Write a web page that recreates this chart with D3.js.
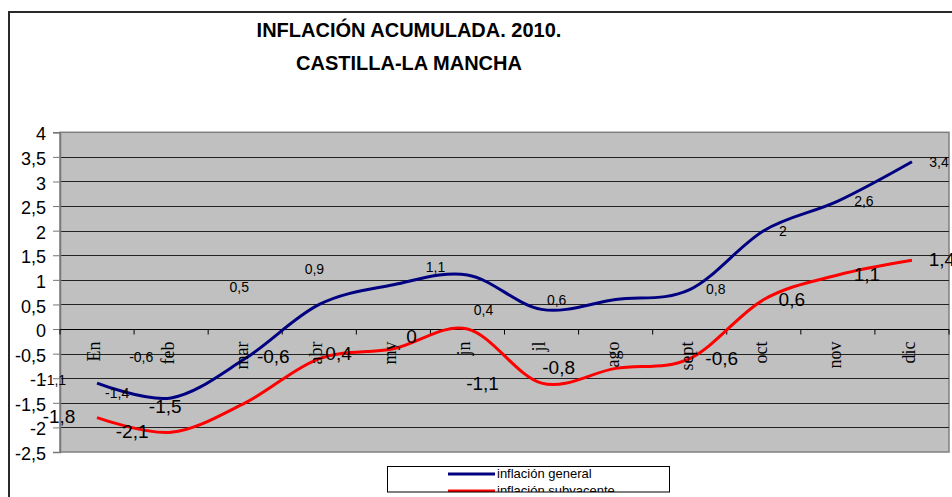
<!DOCTYPE html>
<html>
<head>
<meta charset="utf-8">
<script src="https://cdn.jsdelivr.net/npm/d3@7"></script>
<style>
  body { margin: 0; background: #fff; }
  svg { display: block; font-family: "Liberation Sans", Arial, sans-serif; }
</style>
</head>
<body>
<svg id="chart" width="952" height="497"></svg>
<script>
// months (category axis)
var months = ["En", "feb", "mar", "abr", "my", "jn", "jl", "ago", "sept", "oct", "nov", "dic"];
// inflación general
var general = [-1.1, -1.4, -0.6, 0.5, 0.9, 1.1, 0.4, 0.6, 0.8, 2.0, 2.6, 3.4];
// inflación subyacente
var subyacente = [-1.8, -2.1, -1.5, -0.6, -0.4, 0, -1.1, -0.8, -0.6, 0.6, 1.1, 1.4];
var yTicks = [-2.5, -2, -1.5, -1, -0.5, 0, 0.5, 1, 1.5, 2, 2.5, 3, 3.5, 4];
var seriesNames = ["inflación general", "inflación subyacente"];

// data label offsets (px) from each point, they were dragged around in the original
var generalLabelOff = [[-43, -3], [-54, -5], [-104, -2], [-80, -17], [-79, -16], [-32, -8],
                       [-58, 1], [-59, 0], [26, -1], [19, 0], [26, 0], [27, 0]];
var subLabelOff = [[-38, -1], [-39, -1], [-80, 3], [-46, -2], [-58, 4], [-56, 7],
                   [-59, 0], [-57, -1], [32, 0], [28, 0], [29, -1], [30, -1]];

var svg = d3.select("#chart");
var plot = {left: 60, right: 949, top: 132.3, bottom: 452};

var fmt = function (v) { return String(v).replace(".", ","); };

// outer chart border (right and bottom edges fall outside the picture)
svg.append("rect")
   .attr("x", 9).attr("y", 12)
   .attr("width", 1000).attr("height", 600)
   .attr("fill", "none")
   .attr("stroke", "#2a2a2a")
   .attr("stroke-width", 2);

// title
var title = svg.append("text")
   .attr("text-anchor", "middle")
   .attr("font-weight", "bold")
   .attr("font-size", 20)
   .attr("fill", "#000");
title.append("tspan").attr("x", 409).attr("y", 37).text("INFLACIÓN ACUMULADA. 2010.");
title.append("tspan").attr("x", 409).attr("y", 70).text("CASTILLA-LA MANCHA");

var x = d3.scaleBand()
          .domain(months)
          .range([plot.left, plot.right]);
var y = d3.scaleLinear()
          .domain([-2.5, 4])
          .range([plot.bottom, plot.top]);

// plot background
svg.append("rect")
   .attr("x", plot.left).attr("y", plot.top)
   .attr("width", plot.right - plot.left)
   .attr("height", plot.bottom - plot.top)
   .attr("fill", "#c0c0c0")
   .attr("stroke", "#808080")
   .attr("stroke-width", 1.5);

// horizontal grid lines
svg.selectAll(".grid-line-y")
   .data(yTicks.filter(function (d) { return d > -2.5 && d < 4; }))
   .enter()
   .append("line")
   .attr("class", "grid-line-y")
   .attr("x1", plot.left).attr("x2", plot.right)
   .attr("y1", function (d) { return Math.round(y(d)) + 0.5; })
   .attr("y2", function (d) { return Math.round(y(d)) + 0.5; })
   .attr("stroke", "#222")
   .attr("stroke-width", 1);

// y axis
var yaxis = d3.axisLeft(y)
              .tickValues(yTicks)
              .tickSize(7)
              .tickPadding(7)
              .tickFormat(fmt);
var yaxisG = svg.append("g")
                .attr("transform", "translate(" + plot.left + ",0)")
                .call(yaxis);
yaxisG.select(".domain").attr("stroke", "#777").attr("stroke-width", 1.5);
yaxisG.selectAll(".tick line").attr("stroke", "#777");
yaxisG.selectAll(".tick text")
      .attr("font-family", "Liberation Sans, Arial, sans-serif")
      .attr("font-size", 18)
      .attr("fill", "#000")
      .attr("dy", "0.42em");

// category axis on the zero line
var y0 = Math.round(y(0)) + 0.5;
svg.append("line")
   .attr("x1", plot.left).attr("x2", plot.right)
   .attr("y1", y0).attr("y2", y0)
   .attr("stroke", "#000");
var bounds = months.map(function (m) { return x(m); }).concat([plot.right]);
svg.selectAll(".tick-x")
   .data(bounds)
   .enter()
   .append("line")
   .attr("class", "tick-x")
   .attr("x1", function (d) { return d; })
   .attr("x2", function (d) { return d; })
   .attr("y1", y0).attr("y2", y0 + 5)
   .attr("stroke", "#000");

// series lines (smoothed like the original)
var line = d3.line()
             .x(function (d, i) { return x(months[i]) + x.bandwidth() / 2; })
             .y(function (d) { return y(d); })
             .curve(d3.curveCardinal.tension(0));

svg.append("path")
   .datum(general)
   .attr("d", line)
   .attr("fill", "none")
   .attr("stroke", "#000080")
   .attr("stroke-width", 3);
svg.append("path")
   .datum(subyacente)
   .attr("d", line)
   .attr("fill", "none")
   .attr("stroke", "#ff0000")
   .attr("stroke-width", 3);

// data labels
function drawLabels(values, offsets, size) {
    svg.append("g")
       .selectAll("text")
       .data(values)
       .enter()
       .append("text")
       .attr("x", function (d, i) { return x(months[i]) + x.bandwidth() / 2 + offsets[i][0]; })
       .attr("y", function (d, i) { return y(d) + offsets[i][1]; })
       .attr("dy", "0.36em")
       .attr("text-anchor", "middle")
       .attr("font-size", size)
       .attr("fill", "#000")
       .text(fmt);
}
drawLabels(general, generalLabelOff, 14);
drawLabels(subyacente, subLabelOff, 19);

// month labels, rotated, hanging from the zero line
svg.selectAll(".month-label")
   .data(months)
   .enter()
   .append("text")
   .attr("class", "month-label")
   .attr("transform", function (d) {
       return "translate(" + (x(d) + x.bandwidth() / 2 + 3) + "," + (y0 + 12) + ") rotate(-90)";
   })
   .attr("text-anchor", "end")
   .attr("font-family", "Liberation Serif, Times New Roman, serif")
   .attr("font-size", 18)
   .attr("fill", "#000")
   .text(function (d) { return d; });

// legend (cut off at its bottom edge, as in the original)
var legend = {x: 387.5, y: 466.5, w: 282, h: 25.5};
svg.append("clipPath")
   .attr("id", "legend-clip")
   .append("rect")
   .attr("x", legend.x).attr("y", legend.y)
   .attr("width", legend.w).attr("height", legend.h);
svg.append("rect")
   .attr("x", legend.x).attr("y", legend.y)
   .attr("width", legend.w).attr("height", legend.h)
   .attr("fill", "#fff");
var legendG = svg.append("g").attr("clip-path", "url(#legend-clip)");
var legendColors = ["#000080", "#ff0000"];
seriesNames.forEach(function (name, i) {
    var ly = 474 + i * 17;
    legendG.append("line")
           .attr("x1", 448).attr("x2", 495)
           .attr("y1", ly).attr("y2", ly)
           .attr("stroke", legendColors[i])
           .attr("stroke-width", 3);
    legendG.append("text")
           .attr("x", 497).attr("y", ly + 4)
           .attr("font-size", 13)
           .attr("fill", "#000")
           .text(name);
});
svg.append("rect")
   .attr("x", legend.x).attr("y", legend.y)
   .attr("width", legend.w).attr("height", legend.h)
   .attr("fill", "none")
   .attr("stroke", "#000")
   .attr("stroke-width", 1);
</script>
</body>
</html>
